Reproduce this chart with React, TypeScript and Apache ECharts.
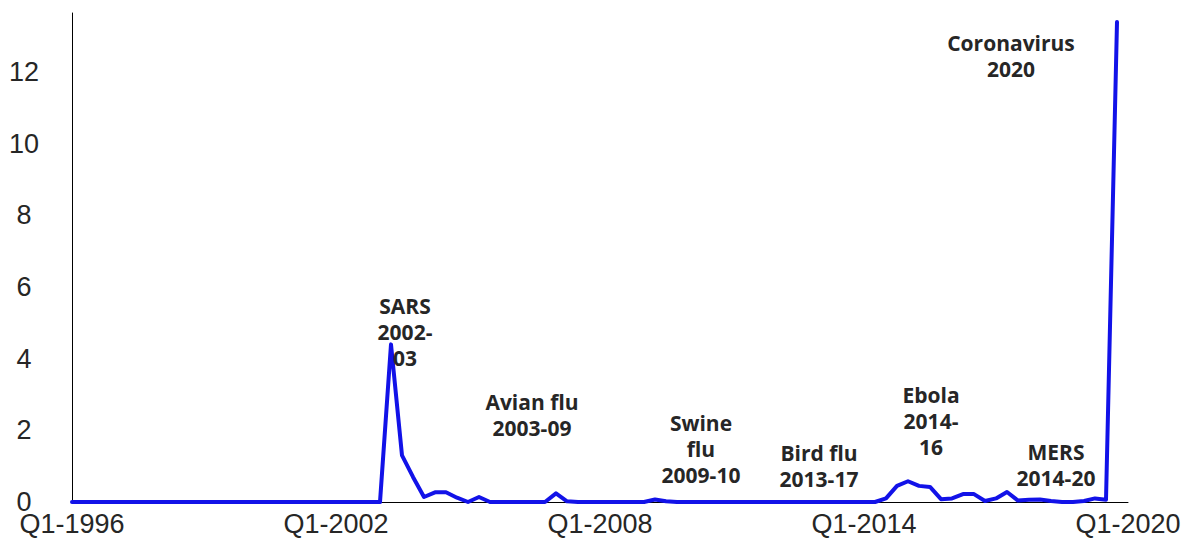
import React, { useEffect, useRef } from "react";
import * as echarts from "echarts";

// Quarterly categories Q1-1996 .. Q1-2020
const startYear = 1996;
const quarterCount = 97;
const categories: string[] = [];
for (let i = 0; i < quarterCount; i++) {
  const y = startYear + Math.floor(i / 4);
  const q = (i % 4) + 1;
  categories.push(`Q${q}-${y}`);
}

// World pandemic uncertainty index values
const indexValues: (number | null)[] = [
  // Q1-1996 .. Q1-2003
  0, 0, 0, 0, 0, 0, 0, 0, 0, 0,
  0, 0, 0, 0, 0, 0, 0, 0, 0, 0,
  0, 0, 0, 0, 0, 0, 0, 0, 0,
  // SARS and aftermath (Q2-2003 .. Q3-2005)
  4.4, 1.3, 0.7, 0.14, 0.27, 0.27, 0.12, 0, 0.14, 0,
  // Q4-2005 .. Q4-2006
  0, 0, 0, 0, 0,
  // Q1-2007, Q2-2007
  0.24, 0.02,
  // Q3-2007 .. Q1-2009
  0, 0, 0, 0, 0, 0, 0,
  // Q2-2009, Q3-2009
  0.07, 0.02,
  // Q4-2009 .. Q1-2014
  0, 0, 0, 0, 0, 0, 0, 0, 0, 0,
  0, 0, 0, 0, 0, 0, 0, 0,
  // Q2-2014 .. Q4-2019
  0, 0.1, 0.45, 0.58, 0.45, 0.42, 0.08, 0.1, 0.22, 0.22,
  0.03, 0.1, 0.28, 0.04, 0.06, 0.07, 0.03, 0, 0, 0.03,
  0.1, 0.06, 13.4,
  // Q1-2020
  null,
];

const yTicks = [0, 2, 4, 6, 8, 10, 12];

const annotations: { lines: string[]; x: number; y: number }[] = [
  { lines: ["SARS", "2002-", "03"], x: 405, y: 293 },
  { lines: ["Avian flu", "2003-09"], x: 532, y: 389 },
  { lines: ["Swine", "flu", "2009-10"], x: 701, y: 410 },
  { lines: ["Bird flu", "2013-17"], x: 819, y: 440 },
  { lines: ["Ebola", "2014-", "16"], x: 931, y: 382 },
  { lines: ["MERS", "2014-20"], x: 1056, y: 439 },
  { lines: ["Coronavirus", "2020"], x: 1011, y: 30 },
];

export default function App() {
  const ref = useRef<HTMLDivElement>(null);
  useEffect(() => {
    if (!ref.current) return;
    const chart = echarts.init(ref.current, null, { renderer: "svg" });
    const labelFont = "'Liberation Sans', Arial, sans-serif";
    chart.setOption({
      animation: false,
      backgroundColor: "#ffffff",
      grid: { left: 72, right: 64, top: 13, bottom: 39, containLabel: false },
      xAxis: {
        type: "category",
        data: categories,
        boundaryGap: false,
        axisLine: { show: true, lineStyle: { color: "#000", width: 1 } },
        axisTick: { show: false },
        splitLine: { show: false },
        axisLabel: {
          interval: 23,
          color: "#262626",
          fontSize: 27,
          lineHeight: 20,
          fontFamily: labelFont,
          margin: 12,
        },
      },
      yAxis: {
        type: "value",
        min: 0,
        max: 13.65,
        interval: 2,
        axisLine: { show: true, lineStyle: { color: "#000", width: 1 } },
        axisTick: { show: false },
        splitLine: { show: false },
        axisLabel: {
          showMaxLabel: false,
          align: "center",
          margin: 48,
          color: "#262626",
          fontSize: 27,
          lineHeight: 20,
          fontFamily: labelFont,
          formatter: (v: number) => (yTicks.includes(v) ? String(v) : ""),
        },
      },
      series: [
        {
          type: "line",
          data: indexValues,
          symbol: "none",
          smooth: false,
          connectNulls: false,
          lineStyle: { color: "#1212e8", width: 4, join: "round", cap: "round" },
          z: 3,
        },
      ],
      graphic: annotations.map((a) => ({
        type: "text",
        x: a.x,
        y: a.y,
        z: 10,
        style: {
          text: a.lines.join("\n"),
          align: "center",
          verticalAlign: "top",
          fontFamily: "'Open Sans', sans-serif",
          fontWeight: "bold",
          fontSize: 21,
          lineHeight: 26,
          fill: "#262626",
        },
      })),
    });
    return () => chart.dispose();
  }, []);
  return (
    <div
      ref={ref}
      style={{ position: "fixed", left: 0, top: 0, width: 1192, height: 541 }}
    />
  );
}
